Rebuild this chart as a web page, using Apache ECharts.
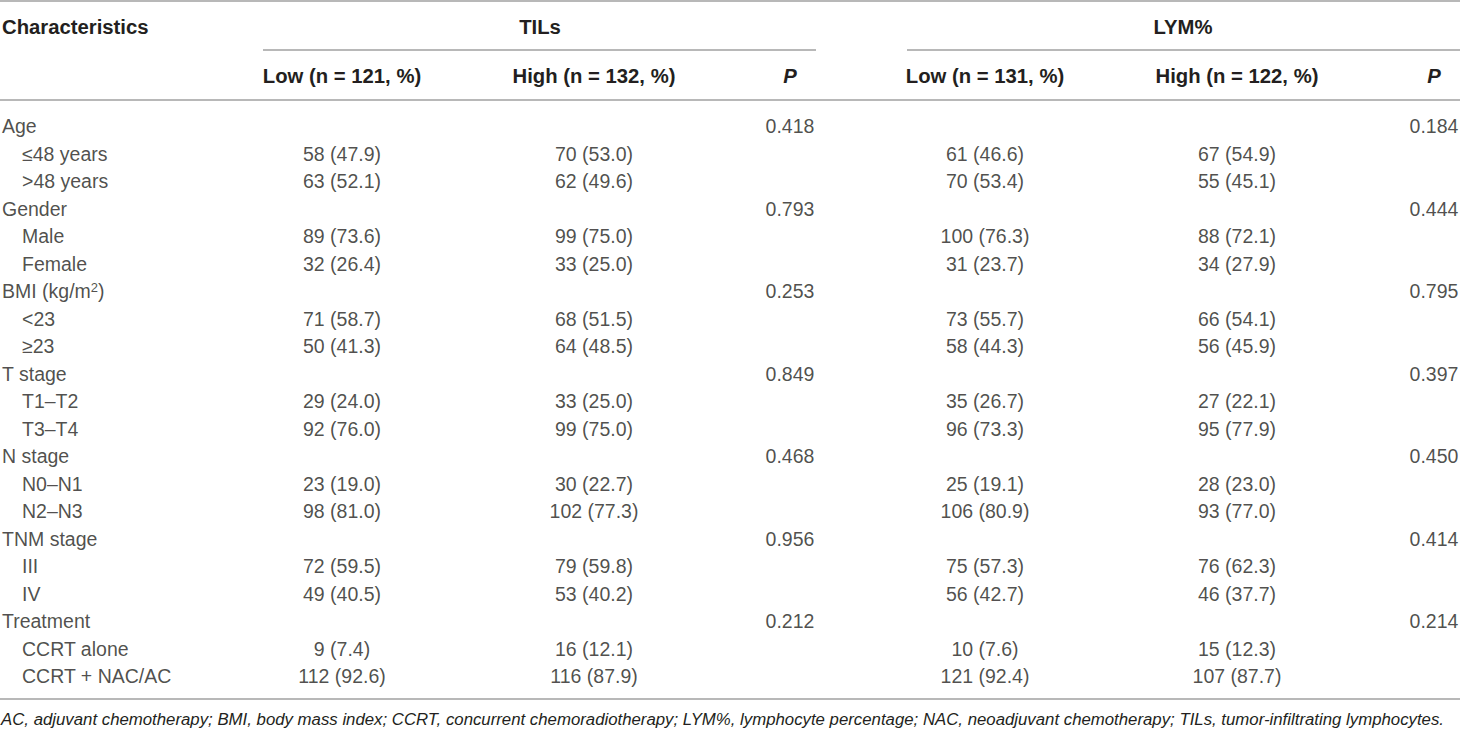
<!DOCTYPE html>
<html>
<head>
<meta charset="utf-8">
<script src="https://cdn.jsdelivr.net/npm/echarts@6/dist/echarts.min.js"></script>
<style>
  html, body { margin: 0; padding: 0; background: #fff; }
  #table-chart { width: 1460px; height: 730px; }
</style>
</head>
<body>
<div id="table-chart"></div>
<script>
const chart = echarts.init(document.getElementById('table-chart'), null, { renderer: 'svg' });

// row labels of the table (1 = group heading, 0 = indented sub-row)
const rowLabels = ['Age', '≤48 years', '>48 years', 'Gender', 'Male', 'Female', 'BMI (kg/m2)', '<23', '≥23',
    'T stage', 'T1–T2', 'T3–T4', 'N stage', 'N0–N1', 'N2–N3', 'TNM stage', 'III', 'IV',
    'Treatment', 'CCRT alone', 'CCRT + NAC/AC'];
const isGroup = [1, 0, 0, 1, 0, 0, 1, 0, 0, 1, 0, 0, 1, 0, 0, 1, 0, 0, 1, 0, 0];

// TILs columns
const tilsLow = ['', '58 (47.9)', '63 (52.1)', '', '89 (73.6)', '32 (26.4)', '', '71 (58.7)', '50 (41.3)',
    '', '29 (24.0)', '92 (76.0)', '', '23 (19.0)', '98 (81.0)', '', '72 (59.5)', '49 (40.5)',
    '', '9 (7.4)', '112 (92.6)'];
const tilsHigh = ['', '70 (53.0)', '62 (49.6)', '', '99 (75.0)', '33 (25.0)', '', '68 (51.5)', '64 (48.5)',
    '', '33 (25.0)', '99 (75.0)', '', '30 (22.7)', '102 (77.3)', '', '79 (59.8)', '53 (40.2)',
    '', '16 (12.1)', '116 (87.9)'];
const tilsP = ['0.418', '', '', '0.793', '', '', '0.253', '', '', '0.849', '', '', '0.468', '', '',
    '0.956', '', '', '0.212', '', ''];

// LYM% columns
const lymLow = ['', '61 (46.6)', '70 (53.4)', '', '100 (76.3)', '31 (23.7)', '', '73 (55.7)', '58 (44.3)',
    '', '35 (26.7)', '96 (73.3)', '', '25 (19.1)', '106 (80.9)', '', '75 (57.3)', '56 (42.7)',
    '', '10 (7.6)', '121 (92.4)'];
const lymHigh = ['', '67 (54.9)', '55 (45.1)', '', '88 (72.1)', '34 (27.9)', '', '66 (54.1)', '56 (45.9)',
    '', '27 (22.1)', '95 (77.9)', '', '28 (23.0)', '93 (77.0)', '', '76 (62.3)', '46 (37.7)',
    '', '15 (12.3)', '107 (87.7)'];
const lymP = ['0.184', '', '', '0.444', '', '', '0.795', '', '', '0.397', '', '', '0.450', '', '',
    '0.414', '', '', '0.214', '', ''];

const groupTitles = ['TILs', 'LYM%'];
const subHeaders = ['Low (n = 121, %)', 'High (n = 132, %)', 'P', 'Low (n = 131, %)', 'High (n = 122, %)', 'P'];
const footnote = 'AC, adjuvant chemotherapy; BMI, body mass index; CCRT, concurrent chemoradiotherapy; ' +
    'LYM%, lymphocyte percentage; NAC, neoadjuvant chemotherapy; TILs, tumor-infiltrating lymphocytes.';

// layout (pixel positions along the hidden x axis)
const colX = [342, 594, 790, 985, 1237, 1434];
const font = "'Liberation Sans', Arial, sans-serif";
const ink = '#231f20';
const rule = '#a0a0a0';

const bodyLabel = {
    show: true,
    position: 'inside',
    color: ink,
    fontFamily: font,
    fontSize: 19.5
};

function columnSeries(values, x) {
    return {
        type: 'scatter',
        symbolSize: 0,
        silent: true,
        data: values.map((v, i) => [x, rowLabels[i], v]).filter(d => d[2] !== ''),
        label: Object.assign({}, bodyLabel, { formatter: p => p.data[2] })
    };
}

const series = [
    {
        type: 'scatter',
        symbolSize: 0,
        silent: true,
        data: rowLabels.map((r, i) => [isGroup[i] ? 2 : 22, r]),
        label: Object.assign({}, bodyLabel, {
            position: 'right',
            distance: 0,
            formatter: p => p.data[1].replace('m2', 'm{sup|2}'),
            rich: {
                sup: { fontSize: 13, fontFamily: font, color: ink, verticalAlign: 'top', lineHeight: 12 }
            }
        })
    },
    columnSeries(tilsLow, colX[0]),
    columnSeries(tilsHigh, colX[1]),
    columnSeries(tilsP, colX[2]),
    columnSeries(lymLow, colX[3]),
    columnSeries(lymHigh, colX[4]),
    columnSeries(lymP, colX[5])
];

function line(x1, x2, y) {
    return { type: 'line', shape: { x1: x1, y1: y, x2: x2, y2: y }, style: { stroke: rule, lineWidth: 1.5 }, silent: true };
}

function headText(text, x, y, align, italic) {
    return {
        type: 'text', x: x, y: y, silent: true,
        style: {
            text: text, fill: ink, font: (italic ? 'italic ' : '') + 'bold 20.3px ' + font,
            align: align, verticalAlign: 'middle'
        }
    };
}

const graphics = [
    line(0, 1460, 1),
    line(263, 816, 50),
    line(907, 1460, 50),
    line(0, 1460, 100),
    line(0, 1460, 699),
    headText('Characteristics', 2, 27, 'left'),
    headText(groupTitles[0], 540, 27, 'center'),
    headText(groupTitles[1], 1183, 27, 'center'),
    {
        type: 'text', x: 1, y: 719, silent: true,
        style: { text: footnote, fill: ink, font: 'italic 16.8px ' + font, align: 'left', verticalAlign: 'middle' }
    }
];
subHeaders.forEach((t, i) => graphics.push(headText(t, colX[i], 76, 'center', t === 'P')));

chart.setOption({
    animation: false,
    grid: { left: 0, right: 0, top: 112.25, bottom: 40.25 },
    xAxis: { type: 'value', min: 0, max: 1460, show: false },
    yAxis: { type: 'category', data: rowLabels, inverse: true, show: false },
    series: series,
    graphic: graphics
});
</script>
</body>
</html>
